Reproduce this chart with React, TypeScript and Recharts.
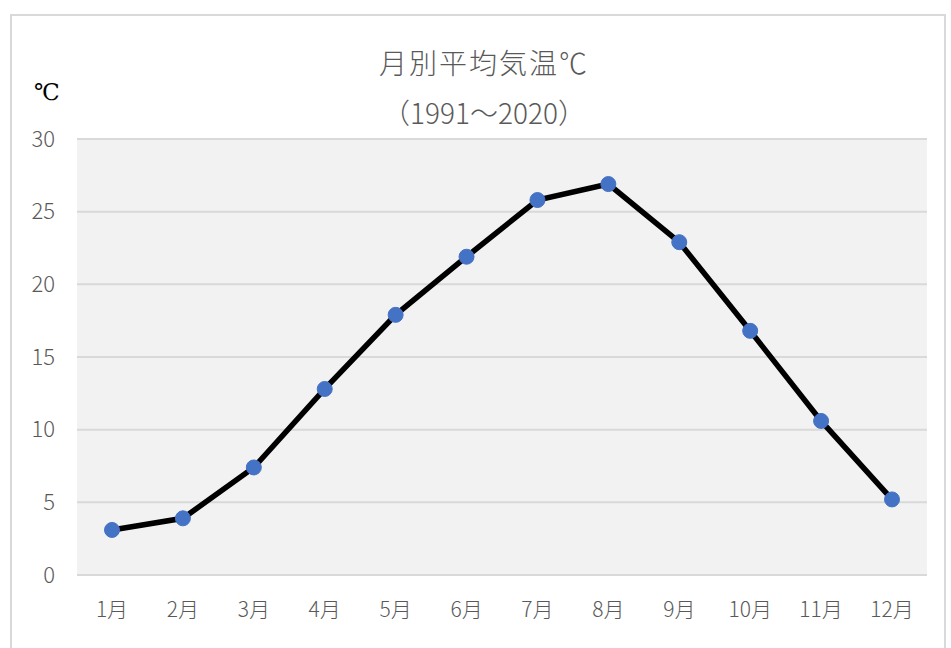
import React from "react";
import { LineChart, Line, XAxis, YAxis, CartesianGrid } from "recharts";

const months = ["1月", "2月", "3月", "4月", "5月", "6月", "7月", "8月", "9月", "10月", "11月", "12月"];
const temps = [3.1, 3.9, 7.4, 12.8, 17.9, 21.9, 25.8, 26.9, 22.9, 16.8, 10.6, 5.2];
const yTicks = [0, 5, 10, 15, 20, 25, 30];

const data = months.map((m, i) => ({ month: m, temp: temps[i] }));

const FONT = "'Noto Sans CJK JP', 'Noto Sans', sans-serif";
const GRAY_TEXT = "#595959";

const App: React.FC = () => (
  <div style={{ position: "absolute", left: 0, top: 0, width: 951, height: 648, overflow: "hidden", background: "#fff" }}>
    {/* outer frame */}
    <div
      style={{
        position: "absolute",
        left: 10,
        top: 14,
        width: 936,
        height: 660,
        border: "2px solid #d9d9d9",
        boxSizing: "border-box",
      }}
    />
    <div
      style={{
        position: "absolute",
        left: 234,
        width: 500,
        top: 37,
        textAlign: "center",
        fontFamily: FONT,
        fontSize: 28,
        lineHeight: "50px",
        color: GRAY_TEXT,
        fontWeight: 300,
      }}
    >
      <div style={{ letterSpacing: 2 }}>月別平均気温℃</div>
      <div>（1991～2020）</div>
    </div>
    <div
      style={{
        position: "absolute",
        left: 34,
        top: 79,
        fontFamily: "'Liberation Serif', 'DejaVu Serif', serif",
        fontSize: 23,
        color: "#000",
      }}
    >
      ℃
    </div>
    <div style={{ position: "absolute", left: 0, top: 0 }}>
      <LineChart width={951} height={648} data={data} margin={{ top: 139, right: 24, bottom: 43, left: 0 }}>
        <CartesianGrid vertical={false} fill="#f2f2f2" stroke="#d9d9d9" strokeWidth={2} />
        <XAxis
          dataKey="month"
          axisLine={false}
          tickLine={false}
          tickMargin={21}
          padding={{ left: 35, right: 35 }}
          tick={{ fill: GRAY_TEXT, fontSize: 21, fontFamily: FONT, fontWeight: 300 }}
          interval={0}
        />
        <YAxis
          width={77}
          domain={[0, 30]}
          ticks={yTicks}
          axisLine={false}
          tickLine={false}
          tickMargin={16}
          tick={{ fill: GRAY_TEXT, fontSize: 22, fontFamily: FONT, fontWeight: 300 }}
        />
        <Line
          type="linear"
          dataKey="temp"
          stroke="#000"
          strokeWidth={5.5}
          dot={{ r: 7.5, fill: "#4472c4", stroke: "#4472c4", strokeWidth: 1 }}
          activeDot={false}
          isAnimationActive={false}
        />
      </LineChart>
    </div>
  </div>
);

export default App;
